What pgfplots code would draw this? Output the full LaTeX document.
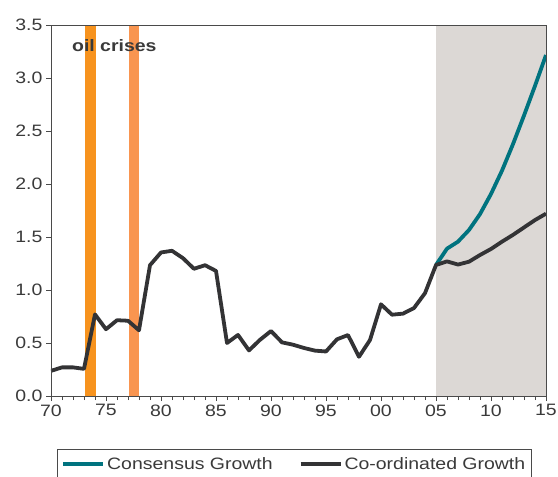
\documentclass[border=0pt]{standalone}
\usepackage{fontspec}
\setmainfont{Liberation Sans}[FakeStretch=1.18]
\usepackage{pgfplots}
\pgfplotsset{compat=1.18}

\definecolor{txt}{HTML}{3A3A3A}
\definecolor{axgray}{HTML}{4A4A4A}
\definecolor{coord}{HTML}{333335}
\definecolor{consensus}{HTML}{00737F}
\definecolor{oilA}{HTML}{F7931E}
\definecolor{oilB}{HTML}{F99550}
\definecolor{fcast}{HTML}{DCD8D5}

\begin{document}
\begin{tikzpicture}
\path[use as bounding box] (-51bp,-81bp) rectangle (507bp,396bp);
\clip (-51bp,-81bp) rectangle (507bp,396bp);
\begin{axis}[
    scale only axis,
    width=495bp, height=371bp,
    xmin=1970, xmax=2015,
    ymin=0, ymax=3.5,
    axis on top,
    axis line style={axgray, line width=0.9bp},
    tick style={axgray, line width=0.9bp},
    tick align=outside,
    tick pos=left,
    major tick length=5bp,
    minor tick length=4bp,
    xtick={1970,1975,...,2015},
    xticklabels={70,75,80,85,90,95,00,05,10,15},
    minor x tick num=4,
    ytick={0,0.5,...,3.5},
    yticklabel style={/pgf/number format/.cd, fixed, fixed zerofill, precision=1},
    /pgf/number format/assume math mode=true,
    font=\fontsize{16.5bp}{19bp}\selectfont,
    every tick label/.append style={text=txt},
    legend columns=2,
    legend style={
        at={(0,0)}, anchor=north west, xshift=6bp, yshift=-53bp,
        draw=axgray, line width=0.8bp, text=txt,
        font=\fontsize{16.5bp}{19bp}\selectfont,
        inner xsep=4bp, inner ysep=6bp,
        /tikz/every even column/.append style={column sep=24bp},
    },
    legend image code/.code={\draw[#1, line width=3.8bp] (0bp,0bp) -- (40bp,0bp);},
]
% shaded forecast period and oil crises
\addplot[draw=none, fill=fcast, forget plot] coordinates {(2005,3.5) (2015,3.5)} \closedcycle;
\addplot[draw=none, fill=oilA, forget plot] coordinates {(1973.1,3.5) (1974.1,3.5)} \closedcycle;
\addplot[draw=none, fill=oilB, forget plot] coordinates {(1977.1,3.5) (1978.0,3.5)} \closedcycle;

\addplot[consensus, line width=3.8bp, line join=round] coordinates {
    (2005,1.236) (2006,1.39) (2007,1.456) (2008,1.566) (2009,1.716)
    (2010,1.906) (2011,2.126) (2012,2.376) (2013,2.646) (2014,2.926) (2015,3.216)
};
\addlegendentry{Consensus Growth}

\addplot[coord, line width=3.8bp, line join=round] coordinates {
    (1970,0.237) (1971,0.27) (1972,0.27) (1973,0.256) (1974,0.77)
    (1975,0.63) (1976,0.715) (1977,0.71) (1978,0.62) (1979,1.234)
    (1980,1.354) (1981,1.37) (1982,1.30) (1983,1.20) (1984,1.234)
    (1985,1.18) (1986,0.50) (1987,0.576) (1988,0.43) (1989,0.53)
    (1990,0.613) (1991,0.506) (1992,0.484) (1993,0.453) (1994,0.428)
    (1995,0.42) (1996,0.535) (1997,0.575) (1998,0.37) (1999,0.528)
    (2000,0.865) (2001,0.767) (2002,0.777) (2003,0.83) (2004,0.97)
    (2005,1.236) (2006,1.27) (2007,1.24) (2008,1.267) (2009,1.33)
    (2010,1.387) (2011,1.456) (2012,1.52) (2013,1.59) (2014,1.66) (2015,1.72)
};
\addlegendentry{Co-ordinated Growth}

\node[anchor=west, text=txt, font=\fontsize{16.5bp}{19bp}\selectfont\bfseries]
    at (axis cs:1971.6,3.31) {oil crises};
\end{axis}
\end{tikzpicture}
\end{document}
